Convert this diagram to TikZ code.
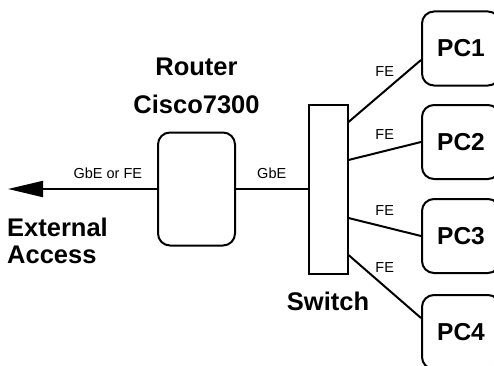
\documentclass[tikz,border=0pt]{standalone}
\usepackage{fontspec}
\setmainfont{Liberation Sans}
\usepackage{tikz}
\usetikzlibrary{arrows.meta, positioning, calc}
\tikzset{
  router/.style    = {rectangle, draw, rounded corners=12pt, line width=2pt,
                      minimum width=77pt, minimum height=113pt},
  switchbox/.style = {rectangle, draw, line width=2pt,
                      minimum width=39pt, minimum height=169pt},
  pc/.style        = {rectangle, draw, rounded corners=12pt, line width=2pt,
                      minimum width=78pt, minimum height=74pt,
                      font=\fontsize{24.5pt}{29pt}\selectfont\bfseries},
  title/.style     = {inner sep=0pt, font=\fontsize{25.5pt}{38pt}\selectfont\bfseries},
  lbl/.style       = {inner sep=0pt, font=\fontsize{14.5pt}{17pt}\selectfont},
  link/.style      = {line width=2pt},
  arrow/.style     = {line width=2pt, -{Triangle[length=35pt, width=16pt]}},
}
\begin{document}
\begin{tikzpicture}[x=1pt, y=1pt]

    \clip (0,0) rectangle (494,365);

    %% Devices
    \node[router]    (rt)  at (196.5,176) {};
    \node[switchbox] (sw)  at (328,176)   {};
    \node[pc]        (pc1) at (461,316.5) {PC1};
    \node[pc]        (pc2) at (461,223)   {PC2};
    \node[pc]        (pc3) at (461,129)   {PC3};
    \node[pc]        (pc4) at (461,33)    {PC4};
    \coordinate (ext) at (8,176);

    %% Names
    \node[title, align=center] (rtname) at (196.5,279.2) {Router\\Cisco7300};
    \node[title, anchor=base]  (swname) at (328,55)      {Switch};
    \node[title, align=left, anchor=north west,
          font=\fontsize{25.5pt}{27pt}\selectfont\bfseries]
          (extname) at (7,147.5) {External\\Access};

    %% Links
    \draw[arrow] (rt.west) -- node[lbl, pos=0.33, above=9pt]{GbE or FE} (ext);
    \draw[link]  (rt) -- node[lbl, above=9pt]{GbE} (sw);
    \draw[link]  ($(sw.east)+(0,67)$)  -- node[lbl, above=14pt]{FE} ($(pc1.west)+(0,-11.5)$);
    \draw[link]  ($(sw.east)+(0,29)$)  -- node[lbl, above=11pt]{FE} (pc2.west);
    \draw[link]  ($(sw.east)+(0,-29)$) -- node[lbl, above=11pt]{FE} (pc3.west);
    \draw[link]  ($(sw.east)+(0,-66)$) -- node[lbl, above=13pt]{FE} ($(pc4.west)+(0,14)$);

  \end{tikzpicture}
\end{document}
